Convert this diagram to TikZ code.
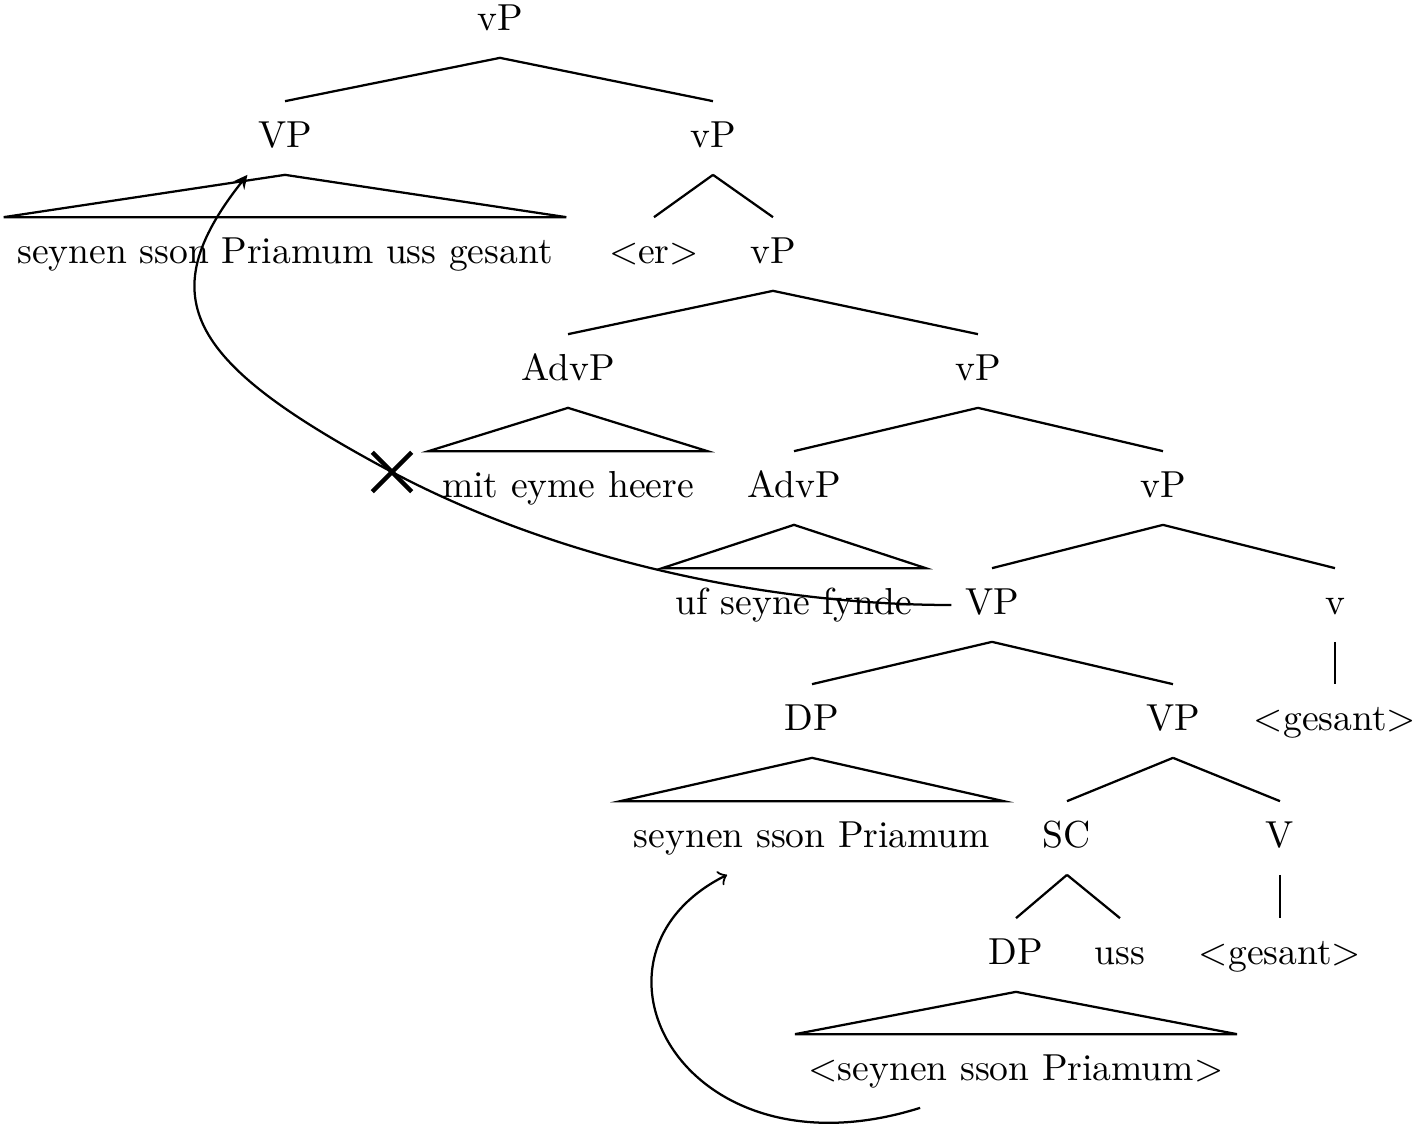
\documentclass[tikz,border=0pt]{standalone}
\usetikzlibrary{shapes.misc}

\begin{document}
\begin{tikzpicture}[x=0.266pt, y=-0.266pt, semithick,
    cat/.style={inner xsep=3.33pt, inner ysep=5pt, text height=7pt, text depth=2pt}]
    \useasboundingbox (0,0) rectangle (1416,1127);

    \node [cat] (vP)      at (500, 21)   {vP};
    \node [cat] (VPtop)   at (285, 138)  {VP};
    \node [cat] (vPa)     at (713, 138)  {vP};
    \node [cat] (VPtext)  at (285, 254)  {seynen sson Priamum uss gesant};
    \node [cat] (er)      at (654, 254)  {<er>};
    \node [cat] (vPb)     at (773, 254)  {vP};
    \node [cat] (AdvPa)   at (568, 371)  {AdvP};
    \node [cat] (vPc)     at (978, 371)  {vP};
    \node [cat] (mit)     at (568, 488)  {mit eyme heere};
    \node [cat] (AdvPb)   at (794, 488)  {AdvP};
    \node [cat] (vPd)     at (1163, 488) {vP};
    \node [cat] (uf)      at (794, 605)  {uf seyne fynde};
    \node [cat] (VPlow)   at (992, 605)  {VP};
    \node [cat] (vsmall)  at (1335, 605) {v};
    \node [cat] (DP)      at (812, 721)  {DP};
    \node [cat] (VPin)    at (1173, 721) {VP};
    \node [cat] (gesanta) at (1335, 721) {<gesant>};
    \node [cat] (DPtext)  at (812, 838)  {seynen sson Priamum};
    \node [cat] (SC)      at (1067, 838) {SC};
    \node [cat] (V)       at (1280, 838) {V};
    \node [cat] (DPin)    at (1016, 955) {DP};
    \node [cat] (uss)     at (1120, 955) {uss};
    \node [cat] (gesantb) at (1280, 955) {<gesant>};
    \node [cat] (low)     at (1016, 1071) {<seynen sson Priamum>};

    \foreach \a/\b in {vP/VPtop, vP/vPa, vPa/er, vPa/vPb, vPb/AdvPa, vPb/vPc,
                       vPc/AdvPb, vPc/vPd, vPd/VPlow, vPd/vsmall, VPlow/DP,
                       VPlow/VPin, VPin/SC, VPin/V, SC/DPin, SC/uss,
                       vsmall/gesanta, V/gesantb}
        \draw (\a.south) -- (\b.north);

    \foreach \a/\b in {VPtop/VPtext, AdvPa/mit, AdvPb/uf, DP/DPtext, DPin/low}
        \draw (\a.south) -- (\b.north west) -- (\b.north east) -- cycle;

    \node [cross out, draw, very thick, minimum size=9.3pt, inner sep=0pt]
        (trace) at (392, 472) {};

    \draw [-stealth] (VPlow.west) .. controls +(-186,0) and +(164,87) .. (trace.center)
        .. controls +(-202,-108) and +(-99,125) .. ([xshift=-10pt]VPtop.south);
    \draw [->] ([xshift=-25.5pt]low.south) .. controls +(-238,75) and +(-162,81)
        .. ([xshift=-22.6pt]DPtext.south);
\end{tikzpicture}
\end{document}
